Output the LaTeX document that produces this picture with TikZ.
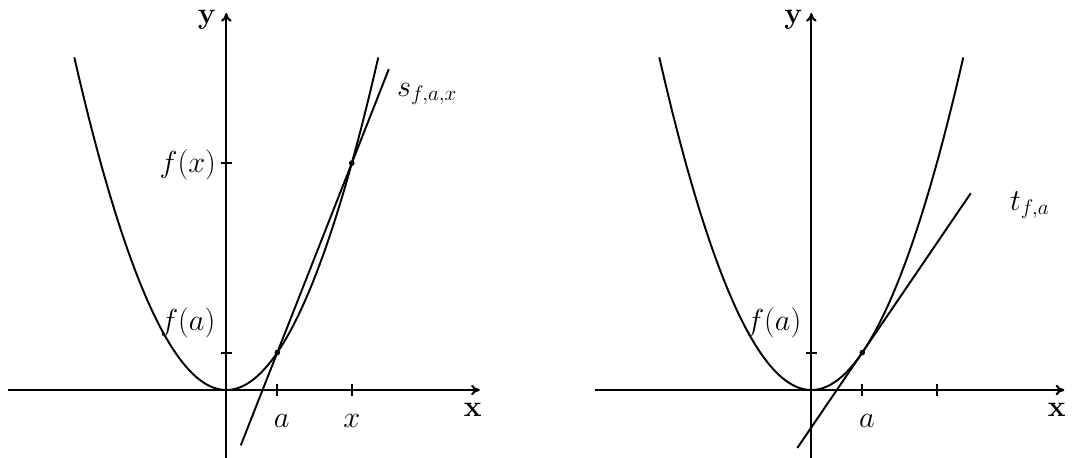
\documentclass[tikz,border=0pt]{standalone}
\usetikzlibrary{arrows.meta}
\begin{document}
\begin{tikzpicture}[
  axis/.style={line width=1.2pt,-{To[length=5pt,width=6pt]}},
  curve/.style={line width=1.1pt},
  tickmark/.style={line width=1.1pt},
  dotmark/.style={circle,fill,inner sep=0pt,minimum size=3.2pt},
  lbl/.style={font=\fontsize{17}{20}\selectfont},
  axlbl/.style={font=\fontsize{17}{20}\selectfont\bfseries}
]
\useasboundingbox (-4.526,-1.34) rectangle (17.294,7.8);
% ---------- left plot ----------
\begin{scope}
  \coordinate (xl) at (-4.36,0);
  \coordinate (xr) at (5.07,0);
  \coordinate (yb) at (0,-1.5);
  \coordinate (yt) at (0,7.54);
  \draw[axis] (xl) -- (xr);
  \draw[axis] (yb) -- (yt);
  \draw[curve] plot[domain=-3.04:3.04,samples=120] (\x,{0.72*\x*\x});
  \coordinate (s1) at (0.29,-1.106);
  \coordinate (s2) at (3.25,6.417);
  \draw[curve] (s1) -- (s2);
  \coordinate (ta1) at (1.02,0.12); \coordinate (ta2) at (1.02,-0.12);
  \coordinate (tx1) at (2.51,0.12); \coordinate (tx2) at (2.51,-0.12);
  \coordinate (tfa1) at (-0.11,0.749); \coordinate (tfa2) at (0.11,0.749);
  \coordinate (tfx1) at (-0.11,4.536); \coordinate (tfx2) at (0.11,4.536);
  \draw[tickmark] (ta1) -- (ta2);
  \draw[tickmark] (tx1) -- (tx2);
  \draw[tickmark] (tfa1) -- (tfa2);
  \draw[tickmark] (tfx1) -- (tfx2);
  \node[dotmark] (pa) at (1.02,0.749) {};
  \node[dotmark] (px) at (2.51,4.536) {};
  \node[axlbl] (ylab) at (-0.39,7.41) {y};
  \node[axlbl] (xlab) at (4.93,-0.39) {x};
  \node[lbl] (alab) at (1.11,-0.61) {$a$};
  \node[lbl] (xtlab) at (2.51,-0.61) {$x$};
  \node[lbl] (fxlab) at (-0.77,4.51) {$f(x)$};
  \node[lbl] (falab) at (-0.77,1.35) {$f(a)$};
  \node[lbl,anchor=base west,inner sep=0pt] (slab) at (3.41,5.88) {$s_{f,a,x}$};
\end{scope}
% ---------- right plot ----------
\begin{scope}[xshift=11.7cm]
  \coordinate (Xl) at (-4.32,0);
  \coordinate (Xr) at (5.06,0);
  \coordinate (Yb) at (0,-1.5);
  \coordinate (Yt) at (0,7.54);
  \draw[axis] (Xl) -- (Xr);
  \draw[axis] (Yb) -- (Yt);
  \draw[curve] plot[domain=-3.04:3.04,samples=120] (\x,{0.72*\x*\x});
  \coordinate (t1) at (-0.28,-1.16);
  \coordinate (t2) at (3.19,3.936);
  \draw[curve] (t1) -- (t2);
  \coordinate (Ta1) at (1.02,0.12); \coordinate (Ta2) at (1.02,-0.12);
  \coordinate (Tb1) at (2.52,0.12); \coordinate (Tb2) at (2.52,-0.12);
  \coordinate (Tfa1) at (-0.11,0.749); \coordinate (Tfa2) at (0.11,0.749);
  \draw[tickmark] (Ta1) -- (Ta2);
  \draw[tickmark] (Tb1) -- (Tb2);
  \draw[tickmark] (Tfa1) -- (Tfa2);
  \node[dotmark] (Pa) at (1.02,0.749) {};
  \node[axlbl] (Ylab) at (-0.36,7.41) {y};
  \node[axlbl] (Xlab) at (4.91,-0.39) {x};
  \node[lbl] (Alab) at (1.11,-0.61) {$a$};
  \node[lbl] (Falab) at (-0.75,1.35) {$f(a)$};
  \node[lbl,anchor=base west,inner sep=0pt] (tlab) at (3.97,3.6) {$t_{f,a}$};
\end{scope}
\end{tikzpicture}
\end{document}
